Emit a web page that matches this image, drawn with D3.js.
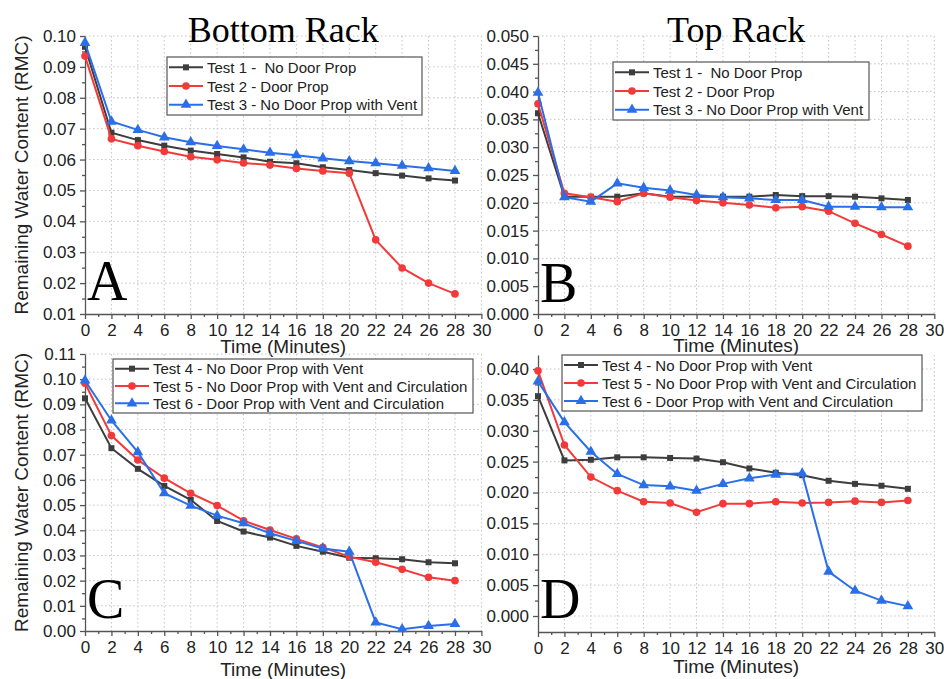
<!DOCTYPE html>
<html>
<head>
<meta charset="utf-8">
<script src="https://cdn.jsdelivr.net/npm/d3@7"></script>
<style>
  body { margin: 0; background: #fff; }
  svg { display: block; }
</style>
</head>
<body>
<div id="chart"></div>
<script>
// time points (minutes)
const minutes = [0, 2, 4, 6, 8, 10, 12, 14, 16, 18, 20, 22, 24, 26, 28];

// Bottom rack, tests 1-3
const bottomTest1 = [0.0965, 0.0687, 0.0663, 0.0645, 0.0629, 0.0618, 0.0607, 0.0593, 0.0588, 0.0575, 0.0566, 0.0556, 0.0548, 0.0539, 0.0532];
const bottomTest2 = [0.0935, 0.0667, 0.0645, 0.0626, 0.0609, 0.0599, 0.0589, 0.0582, 0.0571, 0.0563, 0.0556, 0.0340, 0.0249, 0.0200, 0.0165];
const bottomTest3 = [0.0978, 0.0723, 0.0696, 0.0672, 0.0656, 0.0644, 0.0633, 0.0622, 0.0614, 0.0604, 0.0595, 0.0588, 0.0580, 0.0572, 0.0563];

// Top rack, tests 1-3
const topTest1 = [0.0361, 0.0211, 0.0211, 0.0211, 0.0217, 0.0211, 0.0211, 0.0211, 0.0211, 0.0214, 0.0212, 0.0212, 0.0211, 0.0208, 0.0205];
const topTest2 = [0.0378, 0.0217, 0.0210, 0.0202, 0.0217, 0.0210, 0.0204, 0.0200, 0.0196, 0.0191, 0.0193, 0.0185, 0.0163, 0.0143, 0.0122];
const topTest3 = [0.0398, 0.0210, 0.0202, 0.0235, 0.0227, 0.0222, 0.0214, 0.0210, 0.0208, 0.0205, 0.0205, 0.0193, 0.0193, 0.0192, 0.0192];

// Bottom rack, tests 4-6
const bottomTest4 = [0.0924, 0.0726, 0.0644, 0.0576, 0.0521, 0.0437, 0.0395, 0.0371, 0.0338, 0.0315, 0.0291, 0.0289, 0.0285, 0.0273, 0.0269];
const bottomTest5 = [0.0984, 0.0776, 0.0679, 0.0607, 0.0547, 0.0498, 0.0438, 0.0401, 0.0366, 0.0332, 0.0295, 0.0273, 0.0245, 0.0213, 0.0200];
const bottomTest6 = [0.0995, 0.0836, 0.0710, 0.0547, 0.0498, 0.0458, 0.0428, 0.0388, 0.0358, 0.0328, 0.0315, 0.0034, 0.0007, 0.0020, 0.0028];

// Top rack, tests 4-6
const topTest4 = [0.0356, 0.0252, 0.0253, 0.0257, 0.0257, 0.0256, 0.0255, 0.0249, 0.0239, 0.0232, 0.0228, 0.0219, 0.0214, 0.0211, 0.0206];
const topTest5 = [0.0397, 0.0277, 0.0225, 0.0203, 0.0185, 0.0183, 0.0168, 0.0182, 0.0182, 0.0185, 0.0183, 0.0184, 0.0186, 0.0184, 0.0187];
const topTest6 = [0.0380, 0.0314, 0.0266, 0.0230, 0.0212, 0.0210, 0.0203, 0.0214, 0.0223, 0.0229, 0.0231, 0.0072, 0.0041, 0.0025, 0.0016];

const legendNames1 = ["Test 1 -  No Door Prop", "Test 2 - Door Prop", "Test 3 - No Door Prop with Vent"];
const legendNames2 = ["Test 4 - No Door Prop with Vent", "Test 5 - No Door Prop with Vent and Circulation", "Test 6 - Door Prop with Vent and Circulation"];

const xTicks = d3.range(0, 31, 2);
const yTicksA = d3.range(0.01, 0.1001, 0.01);
const yTicksB = d3.range(0, 0.0501, 0.005);
const yTicksC = d3.range(0, 0.1101, 0.01);
const yTicksD = d3.range(0, 0.0401, 0.005);

const colours = ["#3d3d3d", "#f23a3a", "#2a6fe8"];
const shapes = [d3.symbolSquare, d3.symbolCircle, d3.symbolTriangle];
const shapeSizes = [36, 46, 50];

const sans = "'Liberation Sans', Arial, sans-serif";
const serif = "'Liberation Serif', 'Times New Roman', serif";

const width = 944;
const height = 679;

const svg = d3.select("#chart").append("svg").attr("width", width).attr("height", height);

const panels = [
  { left: 85, right: 481.4, top: 36, bottom: 314, yDomain: [0.01, 0.10], yTicks: yTicksA, fmt: ".2f",
    series: [bottomTest1, bottomTest2, bottomTest3], names: legendNames1,
    legend: { x: 167, y: 57, w: 255, h: 58 }, letter: "A", letterY: 300,
    xLabelY: 353, yLabel: true, title: "Bottom Rack" },
  { left: 538, right: 934.3, top: 36, bottom: 314, yDomain: [0, 0.05], yTicks: yTicksB, fmt: ".3f",
    series: [topTest1, topTest2, topTest3], names: legendNames1,
    legend: { x: 613, y: 62, w: 256, h: 58 }, letter: "B", letterY: 302,
    xLabelY: 352, yLabel: false, title: "Top Rack" },
  { left: 85, right: 481.4, top: 354, bottom: 631, yDomain: [0, 0.11], yTicks: yTicksC, fmt: ".2f",
    series: [bottomTest4, bottomTest5, bottomTest6], names: legendNames2,
    legend: { x: 113, y: 359, w: 360, h: 54 }, letter: "C", letterY: 618,
    xLabelY: 676, yLabel: true, title: null },
  { left: 538, right: 934.3, top: 355, bottom: 632, yDomain: [-0.00259, 0.04227], yTicks: yTicksD, fmt: ".3f",
    series: [topTest4, topTest5, topTest6], names: legendNames2,
    legend: { x: 562, y: 355, w: 360, h: 56 }, letter: "D", letterY: 618,
    xLabelY: 673, yLabel: false, title: null }
];

function drawPanel(p) {
  const g = svg.append("g");

  const x = d3.scaleLinear().domain([0, 30]).range([p.left, p.right]);
  const y = d3.scaleLinear().domain(p.yDomain).range([p.bottom, p.top]);

  // dotted grid
  g.append("g")
    .selectAll("line.vgrid")
    .data(xTicks.filter((d) => d > 0))
    .enter()
    .append("line")
    .attr("x1", (d) => x(d))
    .attr("x2", (d) => x(d))
    .attr("y1", p.top)
    .attr("y2", p.bottom)
    .attr("stroke", "#c4c4c4")
    .attr("stroke-width", 1)
    .attr("stroke-dasharray", "1.5,2.5");

  g.append("g")
    .selectAll("line.hgrid")
    .data(p.yTicks.filter((d) => y(d) < p.bottom - 2))
    .enter()
    .append("line")
    .attr("x1", p.left)
    .attr("x2", p.right)
    .attr("y1", (d) => y(d))
    .attr("y2", (d) => y(d))
    .attr("stroke", "#c4c4c4")
    .attr("stroke-width", 1)
    .attr("stroke-dasharray", "1.5,2.5");

  // axes
  const xAxis = g.append("g")
    .attr("transform", `translate(0,${p.bottom})`)
    .call(d3.axisBottom(x).tickValues(xTicks).tickSize(5).tickSizeOuter(0).tickPadding(5));

  g.append("g")
    .attr("transform", `translate(0,${p.bottom})`)
    .call(d3.axisBottom(x).tickValues(d3.range(1, 30, 2)).tickSize(3).tickFormat(""))
    .call((s) => s.select(".domain").remove());

  const yStep = p.yTicks[1] - p.yTicks[0];
  const yMinor = p.yTicks.slice(0, -1).map((d) => d + yStep / 2);
  const yAxis = g.append("g")
    .attr("transform", `translate(${p.left},0)`)
    .call(d3.axisLeft(y).tickValues(p.yTicks).tickSize(5).tickSizeOuter(0).tickPadding(4).tickFormat(d3.format(p.fmt)));

  g.append("g")
    .attr("transform", `translate(${p.left},0)`)
    .call(d3.axisLeft(y).tickValues(yMinor).tickSize(3).tickFormat(""))
    .call((s) => s.select(".domain").remove());

  g.selectAll(".tick line, .domain").attr("stroke", "#555").attr("stroke-width", 1.3);
  [xAxis, yAxis].forEach((a) =>
    a.selectAll("text").style("font-family", sans).style("font-size", "17px").attr("fill", "#222")
  );

  // series lines and markers
  p.series.forEach((values, i) => {
    const points = minutes.map((m, j) => [m, values[j]]);
    g.append("path")
      .datum(points)
      .attr("fill", "none")
      .attr("stroke", colours[i])
      .attr("stroke-width", 2)
      .attr("d", d3.line().x((d) => x(d[0])).y((d) => y(d[1])));

    g.selectAll(null)
      .data(points)
      .enter()
      .append("path")
      .attr("transform", (d) => `translate(${x(d[0])},${y(d[1])})`)
      .attr("d", d3.symbol().type(shapes[i]).size(shapeSizes[i]))
      .attr("fill", colours[i]);
  });

  // legend
  const lg = g.append("g").attr("transform", `translate(${p.legend.x},${p.legend.y})`);
  lg.append("rect")
    .attr("width", p.legend.w)
    .attr("height", p.legend.h)
    .attr("fill", "#fff")
    .attr("stroke", "#555")
    .attr("stroke-width", 1.2);

  const rowH = (p.legend.h - 2) / 3;
  p.names.forEach((name, i) => {
    const ry = 1 + rowH * (i + 0.5);
    lg.append("line")
      .attr("x1", 2)
      .attr("x2", 36)
      .attr("y1", ry)
      .attr("y2", ry)
      .attr("stroke", colours[i])
      .attr("stroke-width", 2);
    lg.append("path")
      .attr("transform", `translate(19,${ry})`)
      .attr("d", d3.symbol().type(shapes[i]).size(shapeSizes[i]))
      .attr("fill", colours[i]);
    lg.append("text")
      .attr("x", 40)
      .attr("y", ry + 5.5)
      .style("font-family", sans)
      .style("font-size", "15px")
      .style("white-space", "pre")
      .attr("fill", "#222")
      .text(name);
  });

  // panel letter
  g.append("text")
    .attr("x", p.left + 2)
    .attr("y", p.letterY)
    .style("font-family", serif)
    .style("font-size", "56px")
    .attr("fill", "#000")
    .text(p.letter);

  // axis labels
  g.append("text")
    .attr("x", (p.left + p.right) / 2)
    .attr("y", p.xLabelY)
    .attr("text-anchor", "middle")
    .style("font-family", sans)
    .style("font-size", "19px")
    .attr("fill", "#222")
    .text("Time (Minutes)");

  if (p.yLabel) {
    g.append("text")
      .attr("transform", `translate(${p.left - 57},${(p.top + p.bottom) / 2}) rotate(-90)`)
      .attr("text-anchor", "middle")
      .style("font-family", sans)
      .style("font-size", "19px")
      .attr("fill", "#222")
      .text("Remaining Water Content (RMC)");
  }

  if (p.title) {
    g.append("text")
      .attr("x", (p.left + p.right) / 2)
      .attr("y", 42)
      .attr("text-anchor", "middle")
      .style("font-family", serif)
      .style("font-size", "36px")
      .attr("fill", "#000")
      .text(p.title);
  }
}

panels.forEach(drawPanel);
</script>
</body>
</html>
